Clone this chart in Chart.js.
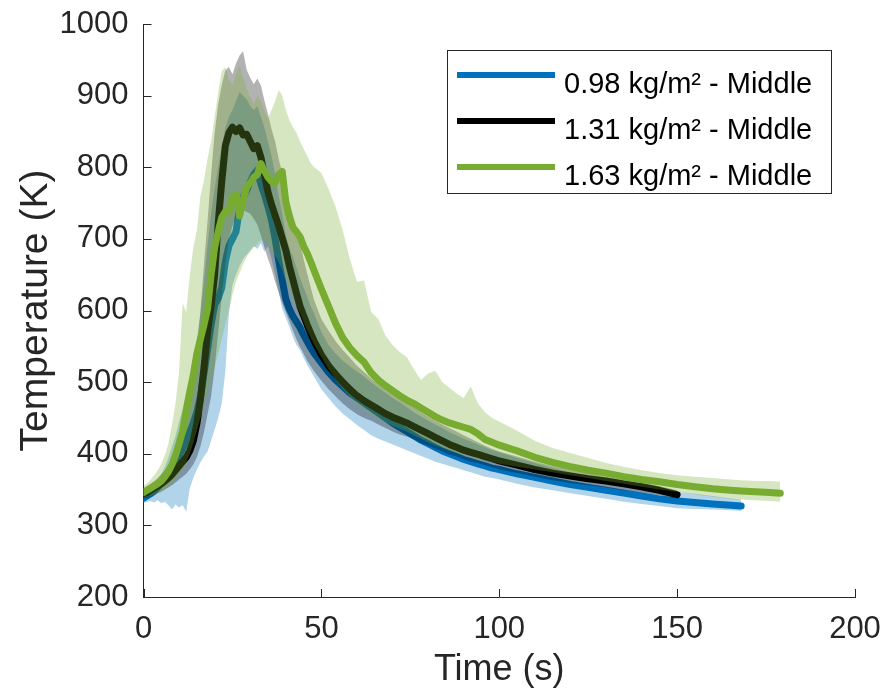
<!DOCTYPE html>
<html>
<head>
<meta charset="utf-8">
<title>Temperature - Middle</title>
<script src="https://cdn.jsdelivr.net/npm/chart.js@4.4.1/dist/chart.umd.min.js"></script>
<style>
  html, body { margin: 0; padding: 0; background: #fff; }
  #wrap { width: 888px; height: 694px; }
</style>
</head>
<body>
<div id="wrap"><canvas id="tempChart" width="888" height="694"></canvas></div>
<script>
// time axis (s) - 1 s steps around the peak, coarser in the tail
const time = [
  0, 1, 2, 3, 4, 5, 6, 7, 8, 9, 10, 11, 12, 13, 14, 15, 16, 17, 18, 19,
  20, 21, 22, 23, 24, 25, 26, 27, 28, 29, 30, 31, 32, 33, 34, 35, 36, 37, 38, 39,
  40, 41, 42, 43, 44, 45, 46, 47, 48,
  50, 52, 54, 56, 58, 60, 62, 64, 66, 68, 70, 72, 74, 76, 78, 80, 82, 84, 86, 88, 90, 92, 94, 96, 98, 100,
  105, 110, 115, 120, 125, 130, 135, 140, 145, 150,
  155, 160, 165, 168, 172, 176, 179
];

const seriesLabels = ['0.98 kg/m\u00B2 - Middle', '1.31 kg/m\u00B2 - Middle', '1.63 kg/m\u00B2 - Middle'];

// 0.98 kg/m2 (ends at 168 s)
const blueMean = [
  338, 341, 344, 348, 353, 359, 366, 374, 383, 390, 398, 407, 418, 430, 443, 458, 480, 512, 546, 580,
  608, 617, 632, 668, 690, 700, 710, 742, 758, 768, 779, 790, 796, 776, 762, 745, 726, 700, 670, 642,
  616, 602, 592, 584, 576, 566, 557, 548, 540,
  527, 514, 503, 494, 485, 478, 471, 464, 457, 450, 443, 437, 431, 425, 419, 414, 409, 404, 400, 396, 392, 389, 386, 383, 380, 378,
  372, 367, 362, 357, 353, 349, 345, 341, 337, 334,
  332, 330, 328, 327
];
const blueUpper = [
  346, 349, 353, 358, 364, 372, 382, 395, 410, 425, 445, 462, 485, 505, 530, 560, 595, 640, 690, 735,
  770, 800, 830, 855, 870, 880, 892, 905, 900, 895, 885, 880, 885, 870, 855, 835, 815, 790, 760, 735,
  705, 688, 675, 660, 645, 632, 620, 606, 595,
  570, 552, 540, 530, 522, 515, 508, 500, 492, 485, 478, 472, 465, 458, 452, 446, 441, 436, 430, 426, 421, 417, 413, 409, 405, 402,
  394, 387, 380, 374, 369, 364, 360, 355, 351, 347,
  344, 341, 338, 336
];
const blueLower = [
  331, 333, 334, 332, 335, 331, 333, 328, 322, 329, 325, 328, 319, 352, 366, 378, 388, 396, 403, 418,
  434, 450, 470, 515, 595, 636, 650, 662, 672, 678, 684, 690, 686, 694, 682, 690, 672, 650, 626, 602,
  590, 577, 563, 552, 545, 534, 524, 516, 507,
  490, 478, 466, 456, 448, 440, 433, 426, 421, 417, 413, 409, 405, 401, 397, 393, 389, 386, 383, 380, 377, 374, 371, 368, 366, 364,
  358, 353, 349, 345, 341, 337, 333, 330, 327, 324,
  323, 322, 321, 320
];

// 1.31 kg/m2 (ends at 150 s)
const blackMean = [
  344, 346, 349, 352, 355, 358, 362, 366, 371, 377, 383, 389, 395, 404, 418, 442, 476, 520, 570, 606,
  650, 722, 780, 830, 848, 856, 850, 855, 845, 846, 836, 826, 830, 814, 790, 765, 748, 733, 718, 701,
  684, 662, 643, 624, 606, 593, 580, 568, 557,
  538, 523, 511, 500, 490, 481, 474, 468, 462, 456, 451, 447, 443, 438, 433, 428, 423, 418, 413, 409, 405, 402, 399, 396, 393, 390,
  384, 378, 373, 369, 365, 362, 358, 354, 349, 343
];
const blackUpper = [
  352, 355, 358, 362, 366, 371, 377, 384, 392, 401, 412, 425, 442, 465, 500, 548, 600, 665, 725, 790,
  848, 888, 915, 935, 940, 930, 945, 956, 962, 936, 925, 916, 924, 914, 893, 874, 853, 836, 812, 792,
  768, 750, 734, 716, 696, 672, 652, 632, 614,
  588, 572, 557, 545, 534, 523, 514, 505, 497, 490, 484, 479, 474, 466, 458, 452, 446, 441, 436, 431, 426, 421, 416, 411, 407, 403,
  396, 389, 383, 378, 373, 368, 364, 360, 355, 349
];
const blackLower = [
  337, 338, 340, 342, 345, 347, 350, 353, 356, 360, 364, 368, 372, 378, 385, 395, 410, 430, 455, 480,
  520, 570, 620, 665, 700, 718, 730, 735, 740, 738, 735, 728, 720, 705, 688, 672, 658, 640, 625, 610,
  598, 585, 572, 560, 549, 540, 530, 522, 515,
  502, 490, 480, 470, 462, 455, 450, 446, 441, 436, 431, 427, 424, 420, 415, 411, 407, 403, 399, 396, 392, 389, 387, 384, 381, 378,
  373, 368, 363, 359, 356, 353, 349, 346, 342, 337
];

// 1.63 kg/m2 (ends at 179 s)
const greenMean = [
  346, 349, 352, 355, 358, 362, 368, 375, 385, 398, 414, 432, 460, 486, 510, 540, 560, 580, 602, 650,
  688, 710, 730, 738, 738, 758, 762, 732, 755, 772, 778, 786, 790, 805, 795, 786, 780, 778, 790, 794,
  752, 730, 716, 710, 703, 690, 680, 668, 655,
  630, 606, 582, 562, 548, 537, 528, 513, 503, 495, 488, 481, 475, 470, 464, 458, 452, 447, 443, 440, 437, 434, 428, 420, 416, 412,
  404, 395, 388, 382, 377, 373, 368, 364, 361, 357,
  354, 351, 349, 348, 347, 346, 345
];
const greenUpper = [
  355, 359, 364, 370, 377, 386, 398, 414, 440, 470, 515, 610, 598, 648, 688, 712, 760, 782, 812, 836,
  870, 905, 934, 940, 922, 915, 930, 942, 925, 910, 898, 888, 900, 893, 878, 868, 880, 892, 908, 900,
  880, 866, 856, 848, 836, 826, 816, 806, 800,
  792, 770, 745, 712, 672, 640, 642, 598, 588, 565, 552, 542, 535, 518, 503, 512, 516, 500, 492, 484, 478, 494, 470, 458, 450, 445,
  432, 418, 408, 401, 394, 387, 382, 377, 373, 370,
  368, 366, 364, 363, 362, 362, 361
];
const greenLower = [
  338, 340, 341, 343, 345, 347, 350, 354, 358, 364, 370, 378, 388, 400, 415, 432, 450, 468, 485, 502,
  520, 540, 560, 580, 600, 622, 640, 652, 665, 675, 682, 688, 692, 698, 696, 690, 684, 676, 668, 656,
  642, 630, 618, 606, 596, 584, 572, 562, 552,
  535, 518, 503, 490, 480, 470, 462, 455, 449, 444, 439, 435, 431, 426, 421, 416, 412, 408, 404, 401, 398, 395, 392, 390, 388, 386,
  382, 378, 374, 370, 366, 362, 358, 354, 350, 347,
  343, 340, 337, 336, 335, 334, 333
];

const BLUE = '#0072BD';
const BLACK = '#000000';
const GREEN = '#77AC30';
const AXIS = '#262626';

function toPoints(values) {
    return values.map((v, i) => ({ x: time[i], y: v }));
}

// mean line
function lineSet(label, values, color, order) {
    return {
        label: label,
        data: toPoints(values),
        borderColor: color,
        borderWidth: 7,
        borderJoinStyle: 'round',
        borderCapStyle: 'round',
        pointRadius: 0,
        tension: 0,
        fill: false,
        order: order
    };
}

// shaded band: upper edge fills down to the lower edge (next dataset)
function bandSet(values, fillColor, order, target) {
    return {
        data: toPoints(values),
        borderColor: 'rgba(0,0,0,0)',
        borderWidth: 0,
        pointRadius: 0,
        tension: 0,
        backgroundColor: fillColor,
        fill: target === undefined ? false : target,
        order: order
    };
}

// lower "order" is drawn on top -> green on top of black on top of blue
const datasets = [
    lineSet(seriesLabels[0], blueMean, BLUE, 4),
    bandSet(blueUpper, 'rgba(0,114,189,0.3)', 5, 2),
    bandSet(blueLower, 'rgba(0,114,189,0.3)', 5),
    lineSet(seriesLabels[1], blackMean, BLACK, 2),
    bandSet(blackUpper, 'rgba(0,0,0,0.3)', 3, 5),
    bandSet(blackLower, 'rgba(0,0,0,0.3)', 3),
    lineSet(seriesLabels[2], greenMean, GREEN, 0),
    bandSet(greenUpper, 'rgba(119,172,48,0.3)', 1, 8),
    bandSet(greenLower, 'rgba(119,172,48,0.3)', 1)
];

// tick marks pointing into the plot (MATLAB style)
const innerTicks = {
    id: 'innerTicks',
    afterDatasetsDraw(chart) {
        const { ctx, chartArea: a, scales: { x, y } } = chart;
        ctx.save();
        ctx.strokeStyle = AXIS;
        ctx.lineWidth = 1;
        ctx.beginPath();
        x.ticks.forEach(t => {
            const px = Math.round(x.getPixelForValue(t.value)) + 0.5;
            ctx.moveTo(px, a.bottom);
            ctx.lineTo(px, a.bottom - 8);
        });
        y.ticks.forEach(t => {
            const py = Math.round(y.getPixelForValue(t.value)) + 0.5;
            ctx.moveTo(a.left, py);
            ctx.lineTo(a.left + 8, py);
        });
        ctx.stroke();
        ctx.restore();
    }
};

// boxed legend in the upper right corner of the plot
const legendBox = {
    id: 'legendBox',
    afterDraw(chart) {
        const { ctx, chartArea: a } = chart;
        const w = 384, h = 143;
        const left = a.right - 24 - w;
        const top = a.top + 26;
        ctx.save();
        ctx.fillStyle = '#fff';
        ctx.fillRect(left, top, w, h);
        ctx.strokeStyle = AXIS;
        ctx.lineWidth = 1;
        ctx.strokeRect(Math.round(left) + 0.5, Math.round(top) + 0.5, w, h);
        ctx.font = '29px "Liberation Sans", Arial, sans-serif';
        ctx.textBaseline = 'alphabetic';
        ctx.textAlign = 'left';
        chart.data.datasets.filter(d => d.label).forEach((d, i) => {
            const ly = top + 25 + i * 46;
            ctx.strokeStyle = d.borderColor;
            ctx.lineWidth = 6;
            ctx.beginPath();
            ctx.moveTo(left + 10, ly);
            ctx.lineTo(left + 108, ly);
            ctx.stroke();
            ctx.fillStyle = '#000';
            ctx.fillText(d.label, left + 117, ly + 18);
        });
        ctx.restore();
    }
};

Chart.defaults.font.family = '"Liberation Sans", Arial, Helvetica, sans-serif';
Chart.defaults.color = AXIS;

new Chart(document.getElementById('tempChart').getContext('2d'), {
    type: 'line',
    data: { datasets },
    options: {
        responsive: false,
        animation: false,
        events: [],
        layout: { padding: { top: 24, right: 33, bottom: 0, left: 0 } },
        plugins: {
            legend: { display: false },
            tooltip: { enabled: false }
        },
        scales: {
            x: {
                type: 'linear',
                min: 0,
                max: 200,
                ticks: { stepSize: 50, padding: 14, maxRotation: 0, font: { size: 31 }, color: AXIS },
                grid: { display: false, drawTicks: false },
                border: { display: true, color: AXIS, width: 1 },
                title: { display: true, text: 'Time (s)', color: AXIS, font: { size: 36 }, padding: { top: 0, bottom: 2 } },
                afterFit(scale) {
                    scale.height = 97;
                    scale.paddingLeft = 0;
                    scale.paddingRight = 0;
                }
            },
            y: {
                type: 'linear',
                min: 200,
                max: 1000,
                ticks: { stepSize: 100, padding: 15, font: { size: 31 }, color: AXIS, callback: v => String(v) },
                grid: { display: false, drawTicks: false },
                border: { display: true, color: AXIS, width: 1 },
                title: { display: true, text: 'Temperature (K)', color: AXIS, font: { size: 39 }, padding: { top: 13, bottom: 0 } },
                afterFit(scale) {
                    scale.width = 143.5;
                    scale.paddingTop = 0;
                    scale.paddingBottom = 0;
                }
            }
        }
    },
    plugins: [innerTicks, legendBox]
});
</script>
</body>
</html>
